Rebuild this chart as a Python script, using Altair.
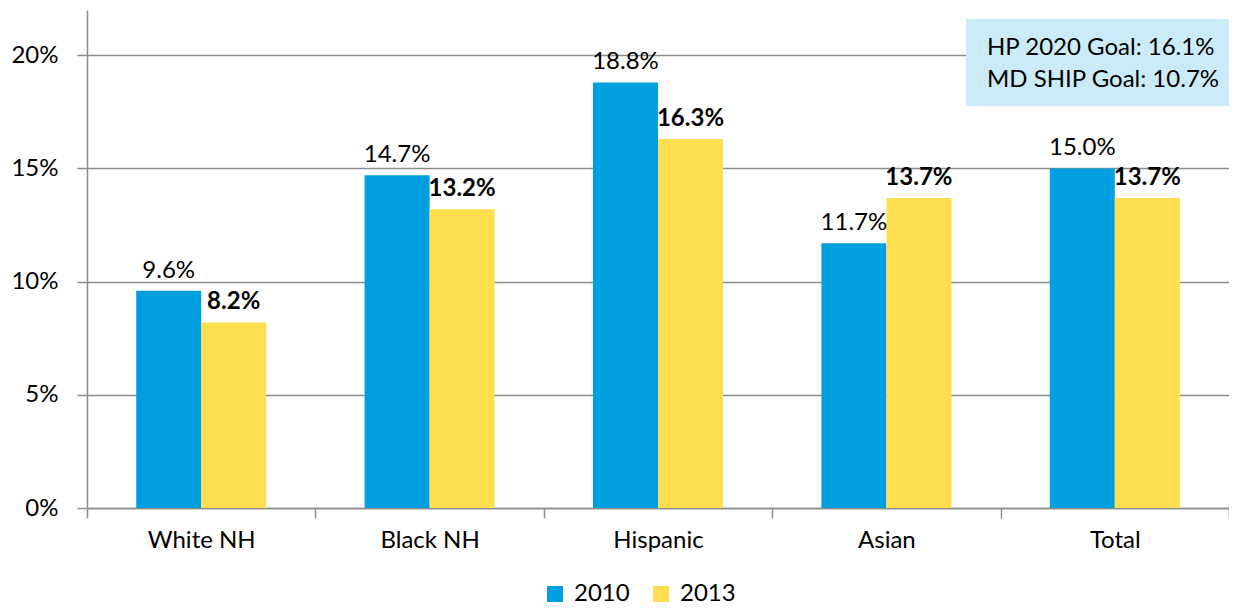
import altair as alt
import pandas as pd

categories = ["White NH", "Black NH", "Hispanic", "Asian", "Total"]
years = ["2010", "2013"]
values_2010 = [0.096, 0.147, 0.188, 0.117, 0.150]
values_2013 = [0.082, 0.132, 0.163, 0.137, 0.137]
y_ticks = [0, 0.05, 0.10, 0.15, 0.20]
goal_lines = ["HP 2020 Goal: 16.1%", "MD SHIP Goal: 10.7%"]
colors = ["#009FDF", "#FFDF50"]

rows = []
for c, v in zip(categories, values_2010):
    rows.append({"group": c, "year": "2010", "value": v})
for c, v in zip(categories, values_2013):
    rows.append({"group": c, "year": "2013", "value": v})
df = pd.DataFrame(rows)

FONT = "Lato"
FS = 24
AXIS_COLOR = "#8c8c8c"

x_enc = alt.X("group:N", sort=categories, title=None,
              scale=alt.Scale(paddingInner=0, paddingOuter=0),
              axis=alt.Axis(labelAngle=0, tickBand="extent", tickSize=10,
                            labelPadding=10, labelFontSize=FS, labelColor="#000",
                            domainColor=AXIS_COLOR, tickColor=AXIS_COLOR,
                            domainWidth=1.5, tickWidth=1.5, grid=False))
xo_enc = alt.XOffset("year:N", sort=years,
                     scale=alt.Scale(paddingInner=0, paddingOuter=0.757))
y_enc = alt.Y("value:Q", title=None,
              scale=alt.Scale(domain=[0, 0.22], nice=False),
              axis=alt.Axis(values=y_ticks, format=".0%", tickSize=10,
                            labelPadding=19, labelFontSize=FS, labelColor="#000",
                            domainColor=AXIS_COLOR, tickColor=AXIS_COLOR,
                            gridColor=AXIS_COLOR, domainWidth=1.5, tickWidth=1.5,
                            gridWidth=1.5, grid=True))

base = alt.Chart(df)

bars = base.mark_bar().encode(
    x=x_enc, xOffset=xo_enc, y=y_enc,
    color=alt.Color("year:N", sort=years,
                    scale=alt.Scale(domain=years, range=colors),
                    legend=alt.Legend(title=None, orient="none", direction="horizontal",
                                      legendX=456, legendY=572, symbolType="square",
                                      symbolSize=256, symbolStrokeWidth=0,
                                      labelFontSize=FS, labelOffset=7,
                                      columnPadding=19, labelColor="#000"))
)

txt2010 = base.transform_filter(alt.datum.year == "2010").mark_text(
    baseline="alphabetic", dy=-13, fontSize=FS, font=FONT, color="#000"
).encode(x=alt.X("group:N", sort=categories), xOffset=alt.XOffset("year:N", sort=years),
         y="value:Q", text=alt.Text("value:Q", format=".1%"))

txt2013 = base.transform_filter(alt.datum.year == "2013").mark_text(
    baseline="alphabetic", dy=-13, fontSize=FS, font=FONT, fontWeight="bold", color="#000"
).encode(x=alt.X("group:N", sort=categories), xOffset=alt.XOffset("year:N", sort=years),
         y="value:Q", text=alt.Text("value:Q", format=".1%"))

one = pd.DataFrame({"k": [0]})
box = alt.Chart(one).mark_rect(color="#CCEBF9").encode(
    x=alt.value(879), x2=alt.value(1142), y=alt.value(9), y2=alt.value(96)
)
box_text = alt.Chart(one).mark_text(
    align="left", baseline="alphabetic", fontSize=FS, font=FONT, color="#000",
    lineHeight=32
).encode(x=alt.value(900), y=alt.value(45), text=alt.value(goal_lines))

chart = alt.layer(bars, txt2010, txt2013, box, box_text).properties(
    width=1142, height=498,
    padding={"left": 79, "top": 2, "right": 0, "bottom": 98},
    autosize=alt.AutoSizeParams(type="none"),
).configure(font=FONT).configure_view(stroke=None)

chart.save("out.html", embed_options={"renderer": "svg", "actions": False})
